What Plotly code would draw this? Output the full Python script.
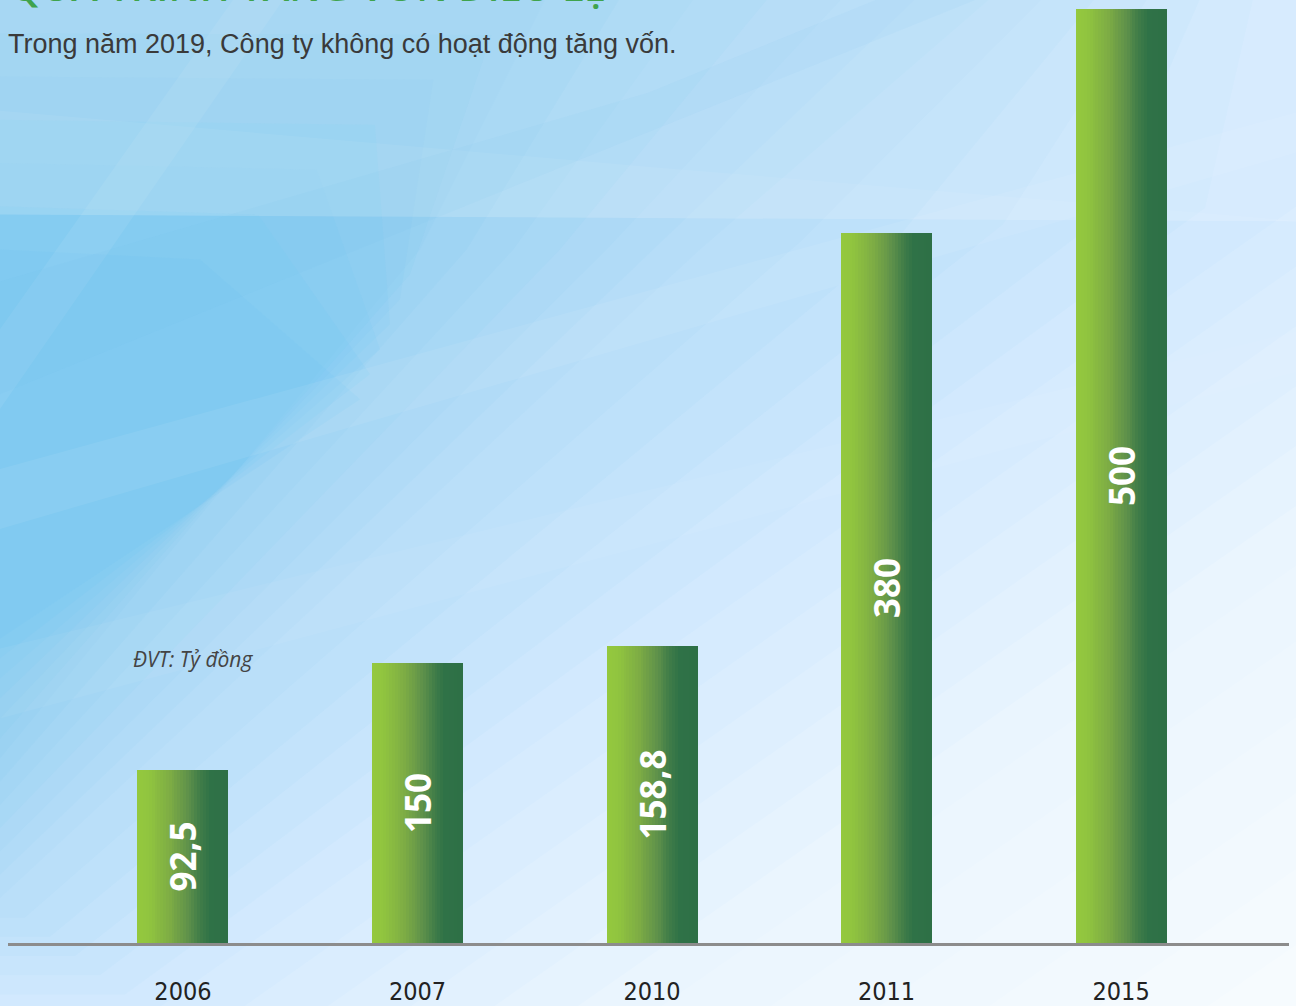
import plotly.graph_objects as go

# ---------------- data ----------------
years = ["2006", "2007", "2010", "2011", "2015"]
capital = [92.5, 150, 158.8, 380, 500]
value_labels = ["92,5", "150", "158,8", "380", "500"]

title_text = "QUÁ TRÌNH TĂNG VỐN ĐIỀU LỆ"
subtitle_text = "Trong năm 2019, Công ty không có hoạt động tăng vốn."
unit_text = "ĐVT: Tỷ đồng"

# ---------------- geometry helpers ----------------
W, H = 1296, 1006
ML, MR, MT, MB = 8, 7, 0, 61
PW = W - ML - MR
PH = H - MT - MB


def px(x):
    return (x - ML) / PW


def py(y):
    return (H - MB - y) / PH


BAR_W = 0.388
N_SLICES = 32
grad_stops = [
    (0.00, (148, 200, 62)),
    (0.12, (145, 197, 63)),
    (0.35, (126, 173, 68)),
    (0.55, (96, 146, 74)),
    (0.70, (62, 123, 72)),
    (0.80, (47, 114, 71)),
    (1.00, (46, 112, 70)),
]


def grad(t):
    for (t0, c0), (t1, c1) in zip(grad_stops[:-1], grad_stops[1:]):
        if t <= t1:
            f = (t - t0) / (t1 - t0) if t1 > t0 else 0
            c = [round(a + (b - a) * f) for a, b in zip(c0, c1)]
            return f"rgb({c[0]},{c[1]},{c[2]})"
    c = grad_stops[-1][1]
    return f"rgb({c[0]},{c[1]},{c[2]})"


fig = go.Figure()

sw = BAR_W / N_SLICES
for i in range(N_SLICES):
    t = (i + 0.5) / N_SLICES
    fig.add_trace(go.Bar(
        x=years, y=capital,
        width=sw * 1.25 if i < N_SLICES - 1 else sw,
        offset=-BAR_W / 2 + i * sw,
        marker=dict(color=grad(t), line=dict(width=0)),
        hoverinfo="skip", showlegend=False,
    ))

fig.add_trace(go.Bar(
    x=years, y=capital, width=BAR_W, offset=-BAR_W / 2,
    text=value_labels, textposition="inside", insidetextanchor="middle",
    textangle=-90,
    textfont=dict(family="Open Sans", size=35, color="white", weight="bold"),
    marker=dict(color="rgba(0,0,0,0)", line=dict(width=0)),
    showlegend=False, hoverinfo="skip",
))

# ---------------- background (decorative translucent layers) ----------------
def poly(points, color):
    path = "M " + " L ".join(f"{px(x):.5f},{py(y):.5f}" for x, y in points) + " Z"
    return dict(type="path", path=path, xref="paper", yref="paper",
                fillcolor=color, line=dict(width=0), layer="below")


blue = "100,195,242"
# contour regions (outer -> inner) with cumulative tint
contours = [
    (0.00, [(0, -10), (1306, -10), (1306, 1016), (1306, 1016), (0, 1016)]),
    (0.07, [(0, -10), (1306, -10), (1306, 560), (650, 1016), (0, 1016)]),
    (0.22, [(0, -10), (1306, -10), (1306, 200), (150, 1016), (0, 1016)]),
    (0.40, [(0, -10), (1000, -10), (700, 250), (0, 900), (0, 900)]),
    (0.58, [(0, -10), (550, -10), (420, 250), (0, 760), (0, 760)]),
    (0.76, [(0, 250), (200, 260), (360, 400), (0, 640), (0, 640)]),
]
shapes = []
SUB = 6
prev_T = 0.0
for (T0, P0), (T1, P1) in zip(contours[:-1], contours[1:]):
    for j in range(1, SUB + 1):
        f = j / SUB
        T = T0 + (T1 - T0) * f
        pts = [(a[0] + (b[0] - a[0]) * f, a[1] + (b[1] - a[1]) * f) for a, b in zip(P0, P1)]
        alpha = 1 - (1 - T) / (1 - prev_T)
        prev_T = T
        shapes.append(poly(pts, f"rgba({blue},{alpha:.4f})"))

shapes += [
    poly([(0, -10), (1306, -10), (1306, 222), (0, 215)], "rgba(255,255,255,0.12)"),
    poly([(0, 111), (648, 167), (1306, 222), (0, 215)], "rgba(255,255,255,0.06)"),
    poly([(0, 330), (240, -10), (290, -10), (0, 410)], "rgba(255,255,255,0.07)"),
    poly([(0, 470), (1306, 110), (1306, 150), (0, 530)], "rgba(255,255,255,0.07)"),
    poly([(0, 650), (1306, 330), (1306, 370), (0, 720)], "rgba(255,255,255,0.05)"),
    poly([(0, 282), (648, 93), (900, -10), (1000, -10), (0, 395)], f"rgba({blue},0.06)"),
]

annotations = [
    dict(text=title_text, x=px(8), y=py(-14.5), xref="paper", yref="paper",
         xanchor="left", yanchor="middle", showarrow=False,
         font=dict(family="Open Sans", size=40, color="#3fa34d", weight=600)),
    dict(text=subtitle_text, x=px(6), y=py(44), xref="paper", yref="paper",
         xanchor="left", yanchor="middle", showarrow=False,
         font=dict(family="Liberation Sans", size=27, color="#3a3a3a")),
    dict(text=unit_text, x=px(131), y=py(660), xref="paper", yref="paper",
         xanchor="left", yanchor="middle", showarrow=False,
         font=dict(family="Open Sans", size=21, color="#444444", style="italic")),
]

fig.update_layout(
    width=W, height=H,
    margin=dict(l=ML, r=MR, t=MT, b=MB, pad=0),
    paper_bgcolor="#f6fbfe", plot_bgcolor="rgba(0,0,0,0)",
    barmode="overlay", bargap=0,
    shapes=shapes, annotations=annotations,
    xaxis=dict(type="category", range=[-0.746, 4.716], showline=True,
               linecolor="#8c8c8c", linewidth=3, showgrid=False, zeroline=False,
               ticks="", ticklabelstandoff=24,
               tickfont=dict(family="DejaVu Sans Condensed, Roboto Condensed, Roboto, sans-serif",
                             size=25, color="#222222")),
    yaxis=dict(range=[0, 504.8], visible=False),
    showlegend=False,
)

fig.write_html(
    "out.html",
    config={"displayModeBar": False},
    post_script="document.body.style.margin='0px';document.body.style.overflow='hidden';",
)
